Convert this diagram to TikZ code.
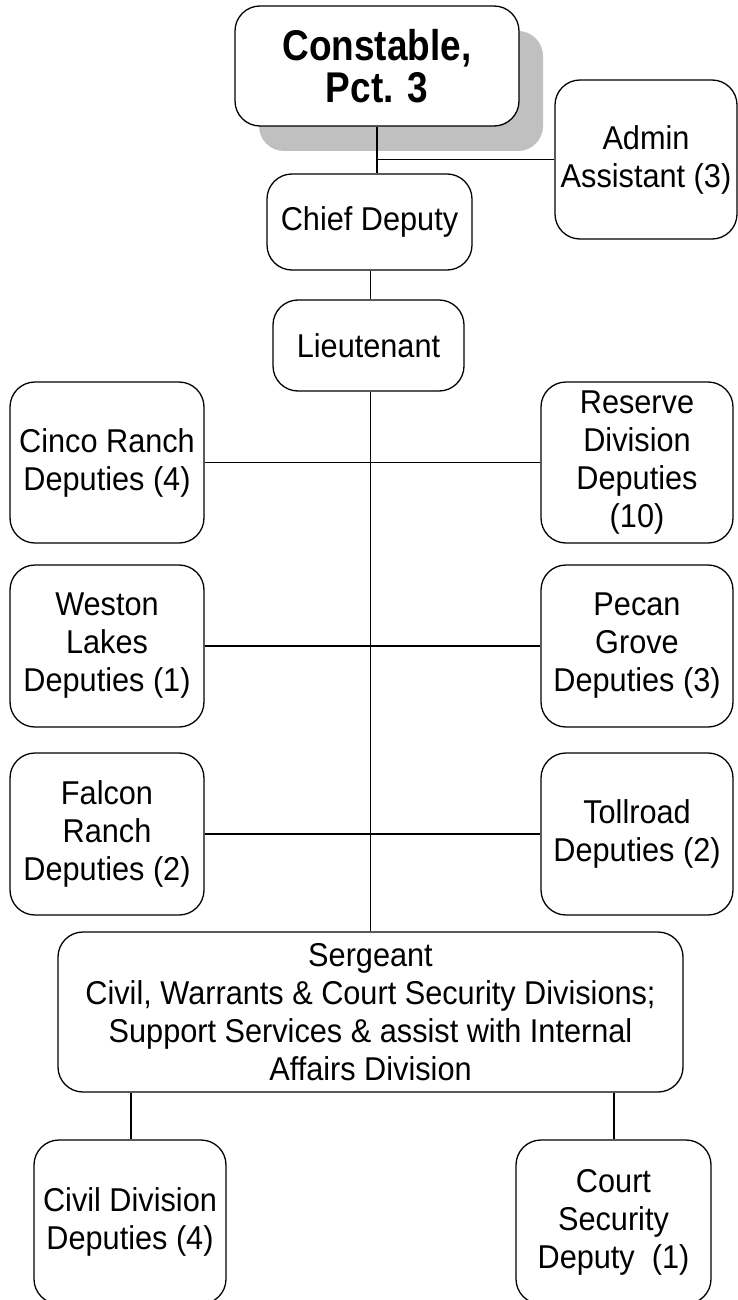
\documentclass[tikz,border=0pt]{standalone}
\usepackage{fontspec}
\setmainfont{Liberation Sans}[FakeStretch=0.93]
\newfontfamily\constfont{Liberation Sans}[FakeStretch=0.86]
\usetikzlibrary{shadows}
\definecolor{shadowgray}{HTML}{C0C0C0}
\tikzset{
  orgbox/.style={draw=black, line width=1.3pt, fill=white, rounded corners=25pt,
    inner sep=0pt, align=center, font=\fontsize{33}{38}\selectfont},
  link/.style={draw=black, line width=1.2pt}
}
\begin{document}
\begin{tikzpicture}[x=1pt, y=-1pt]
\clip (0,0) rectangle (738,1300);
\fill[white] (0,0) rectangle (738,1300);
% top
\node[orgbox, minimum width=284pt, minimum height=120pt,
  font=\constfont\fontsize{43}{42}\selectfont\bfseries,
  general shadow={fill=shadowgray, shadow xshift=24pt, shadow yshift=-25pt}]
  (const) at (377,66) {Constable,\\Pct. 3};
\node[orgbox, minimum width=182pt, minimum height=159pt] (admin) at (646,159.5) {Admin\\Assistant (3)};
\node[orgbox, minimum width=205pt, minimum height=96pt] (chief) at (369.5,222) {Chief Deputy};
\node[orgbox, minimum width=191pt, minimum height=91pt] (lieut) at (368.5,345.5) {Lieutenant};
% side columns
\node[orgbox, minimum width=194pt, minimum height=161pt] (cinco) at (107,462.5) {Cinco Ranch\\Deputies (4)};
\node[orgbox, minimum width=192pt, minimum height=161pt] (reserve) at (637,462.5) {Reserve\\Division\\Deputies\\(10)};
\node[orgbox, minimum width=194pt, minimum height=162pt] (weston) at (107,646) {Weston\\Lakes\\Deputies (1)};
\node[orgbox, minimum width=192pt, minimum height=162pt] (pecan) at (637,646) {Pecan\\Grove\\Deputies (3)};
\node[orgbox, minimum width=194pt, minimum height=162pt] (falcon) at (107,834) {Falcon\\Ranch\\Deputies (2)};
\node[orgbox, minimum width=192pt, minimum height=162pt] (toll) at (637,834) {Tollroad\\Deputies (2)};
% sergeant
\node[orgbox, minimum width=625pt, minimum height=160pt] (sgt) at (370.5,1012)
  {Sergeant\\Civil, Warrants \& Court Security Divisions;\\Support Services \& assist with Internal\\Affairs Division};
\node[orgbox, minimum width=192pt, minimum height=164pt] (civil) at (130,1222) {Civil Division\\Deputies (4)};
\node[orgbox, minimum width=195pt, minimum height=164pt] (court) at (613.5,1222) {Court\\Security\\Deputy\ \ (1)};
% connectors
\coordinate (j1) at (const.south |- admin.west);
\draw[link] (const.south) -- (const.south |- chief.north);
\draw[link] (j1) -- (admin.west);
\draw[link] (chief.south -| lieut.north) ++(2pt,0) -- ([xshift=2pt]lieut.north);
\draw[link] ([xshift=2pt]lieut.south) -- ([xshift=2pt]lieut.south |- sgt.north);
\draw[link] (cinco.east) -- (reserve.west);
\draw[link] (weston.east) -- (pecan.west);
\draw[link] (falcon.east) -- (toll.west);
\draw[link] (sgt.south -| civil.north) ++(1pt,0) -- ([xshift=1pt]civil.north);
\draw[link] (sgt.south -| court.north) ++(0.5pt,0) -- ([xshift=0.5pt]court.north);
\end{tikzpicture}
\end{document}
